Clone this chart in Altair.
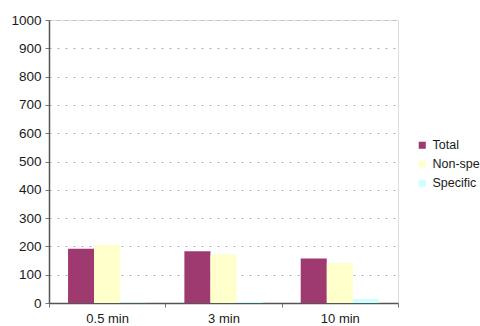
import altair as alt
import pandas as pd

# Time points and measured values per series
times = ["0.5 min", "3 min", "10 min"]
series = ["Total", "Non-spe", "Specific"]
total = [192, 183, 157]
non_spe = [206, 171, 141]
specific = [2, 4, 14]

colors = ["#9e3a70", "#ffffcc", "#ccffff"]

rows = []
for i, t in enumerate(times):
    for name, vals in zip(series, [total, non_spe, specific]):
        rows.append({"time": t, "series": name, "value": vals[i]})
df = pd.DataFrame(rows)

font = "Liberation Sans"

chart = alt.Chart(df).mark_bar().encode(
    x=alt.X(
        "time:N",
        sort=times,
        title=None,
        scale=alt.Scale(paddingInner=0, paddingOuter=0),
        axis=alt.Axis(
            labelAngle=0,
            tickBand="extent",
            tickSize=4,
            tickColor="#777",
            domainColor="#555",
            domainWidth=1.5,
            labelPadding=5,
            labelFontSize=13,
            labelColor="#1a1a1a",
            labelFont=font,
            grid=False,
        ),
    ),
    xOffset=alt.XOffset(
        "series:N",
        sort=series,
        scale=alt.Scale(paddingInner=0, paddingOuter=0.73),
    ),
    y=alt.Y(
        "value:Q",
        title=None,
        scale=alt.Scale(domain=[0, 1000], nice=False),
        axis=alt.Axis(
            values=list(range(0, 1001, 100)),
            format="d",
            tickSize=4,
            tickColor="#777",
            domainColor="#555",
            domainWidth=1.5,
            labelPadding=4,
            labelFontSize=13.5,
            labelColor="#1a1a1a",
            labelFont=font,
            gridColor="#a9acd0",
            gridDash=[2, 6],
            gridWidth=1,
        ),
    ),
    color=alt.Color(
        "series:N",
        sort=series,
        scale=alt.Scale(domain=series, range=colors),
        legend=alt.Legend(
            title=None,
            orient="none",
            legendX=367,
            legendY=119,
            symbolType="square",
            symbolSize=50,
            symbolStrokeWidth=0,
            labelFontSize=12.5,
            labelFont=font,
            labelColor="#1a1a1a",
            rowPadding=6,
            labelOffset=4,
        ),
    ),
).properties(
    width=349,
    height=283,
    autosize=alt.AutoSizeParams(type="none"),
    padding={"left": 49, "top": 20, "right": 82, "bottom": 23},
).configure_view(
    stroke="#555",
    strokeWidth=1.5,
).configure(background="white")

chart.save("out.html", embed_options={"renderer": "svg", "actions": False})
